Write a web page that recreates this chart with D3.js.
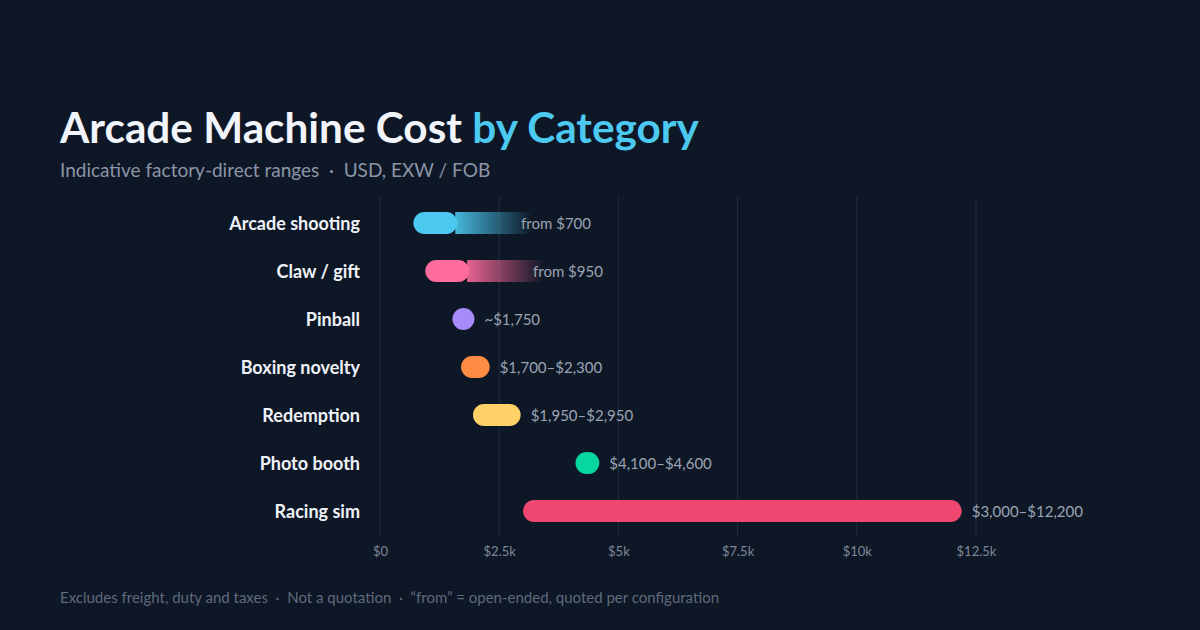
<!DOCTYPE html>
<meta charset="utf-8">
<script src="https://d3js.org/d3.v7.min.js"></script>
<style>
  body { margin: 0; background: #0e1726; }
  svg { display: block; font-family: Lato, "Noto Sans", sans-serif; }
  svg text { white-space: pre; }
</style>
<div id="chart"></div>
<script>
// categories, top to bottom
var categories = ["Arcade shooting", "Claw / gift", "Pinball", "Boxing novelty", "Redemption", "Photo booth", "Racing sim"];
// low / high price in USD (high = null -> open-ended "from")
var lows  = [700, 950, 1750, 1700, 1950, 4100, 3000];
var highs = [null, null, 1750, 2300, 2950, 4600, 12200];
var labels = ["from $700", "from $950", "~$1,750", "$1,700–$2,300", "$1,950–$2,950", "$4,100–$4,600", "$3,000–$12,200"];
var colors = ["#4cc9f0", "#ff6b9d", "#a78bfa", "#ff8c42", "#ffd166", "#06d6a0", "#ef476f"];
// open-ended rows: solid part and fading tail, in USD past the low value
var openSolid = 920, openTail = 2490;
var ticks = [0, 2500, 5000, 7500, 10000, 12500];
var tickLabels = ["$0", "$2.5k", "$5k", "$7.5k", "$10k", "$12.5k"];

var W = 1200, H = 630;
var svg = d3.select("#chart").append("svg").attr("width", W).attr("height", H);
svg.append("rect").attr("width", W).attr("height", H).attr("fill", "#0e1726");

var x = d3.scaleLinear().domain([0, 12500]).range([380, 976]);
var y = d3.scaleBand().domain(categories).range([199, 535]).paddingInner(0).paddingOuter(0);
var barH = 22;

// title
var title = svg.append("text").attr("x", 60).attr("y", 143)
  .attr("font-size", 42.3).attr("font-weight", 700).attr("fill", "#f1f5fb");
title.append("tspan").text("Arcade Machine Cost ");
title.append("tspan").attr("fill", "#4cc9f0").text("by Category");

svg.append("text").attr("x", 60).attr("y", 177)
  .attr("font-size", 19).attr("fill", "#8b95a7")
  .text("Indicative factory-direct ranges  ·  USD, EXW / FOB");

// grid
svg.append("g").selectAll("line").data(ticks).join("line")
  .attr("x1", d => x(d)).attr("x2", d => x(d))
  .attr("y1", 197).attr("y2", 536)
  .attr("stroke", "#222c3c").attr("stroke-width", 1);

// x axis
var axis = svg.append("g").attr("transform", "translate(0,536)")
  .call(d3.axisBottom(x).tickValues(ticks).tickSize(0).tickPadding(11)
    .tickFormat((d, i) => tickLabels[i]));
axis.select(".domain").remove();
axis.selectAll("text").attr("font-size", 13).attr("fill", "#7d8799")
  .attr("font-family", "Lato, 'Noto Sans', sans-serif");

// gradients for open-ended tails
var defs = svg.append("defs");
categories.forEach(function(c, i) {
  if (highs[i] !== null) return;
  var g = defs.append("linearGradient").attr("id", "fade" + i)
    .attr("x1", "0%").attr("x2", "100%").attr("y1", "0%").attr("y2", "0%");
  g.append("stop").attr("offset", "0%").attr("stop-color", colors[i]).attr("stop-opacity", 0.9);
  g.append("stop").attr("offset", "100%").attr("stop-color", colors[i]).attr("stop-opacity", 0);
});

// category labels
svg.append("g").selectAll("text").data(categories).join("text")
  .attr("x", 360).attr("y", d => y(d) + y.bandwidth() / 2)
  .attr("dy", "0.38em").attr("text-anchor", "end")
  .attr("font-size", 18).attr("font-weight", 700).attr("fill", "#eef2f8")
  .text(d => d);

var rows = svg.append("g");
categories.forEach(function(c, i) {
  var cy = y(c) + y.bandwidth() / 2;
  var lo = lows[i], hi = highs[i];
  var labelX;
  if (hi === null) {
    var solidEnd = x(lo + openSolid);
    var tailEnd = x(lo + openTail);
    rows.append("rect")
      .attr("x", solidEnd - 2).attr("y", cy - barH / 2)
      .attr("width", tailEnd - solidEnd + 2).attr("height", barH)
      .attr("fill", "url(#fade" + i + ")");
    rows.append("rect")
      .attr("x", x(lo)).attr("y", cy - barH / 2)
      .attr("width", solidEnd - x(lo)).attr("height", barH)
      .attr("rx", barH / 2).attr("fill", colors[i]);
    labelX = tailEnd - 11;
  } else if (hi === lo) {
    rows.append("circle").attr("cx", x(lo)).attr("cy", cy)
      .attr("r", barH / 2).attr("fill", colors[i]);
    labelX = x(lo) + barH / 2 + 10;
  } else {
    rows.append("rect")
      .attr("x", x(lo)).attr("y", cy - barH / 2)
      .attr("width", x(hi) - x(lo)).attr("height", barH)
      .attr("rx", barH / 2).attr("fill", colors[i]);
    labelX = x(hi) + 10;
  }
  rows.append("text").attr("x", labelX).attr("y", cy).attr("dy", "0.38em")
    .attr("font-size", 15).attr("fill", "#9aa4b4").text(labels[i]);
});

// footer
svg.append("text").attr("x", 60).attr("y", 603)
  .attr("font-size", 15).attr("fill", "#5f6a7c")
  .text("Excludes freight, duty and taxes  ·  Not a quotation  ·  “from” = open-ended, quoted per configuration");
</script>
